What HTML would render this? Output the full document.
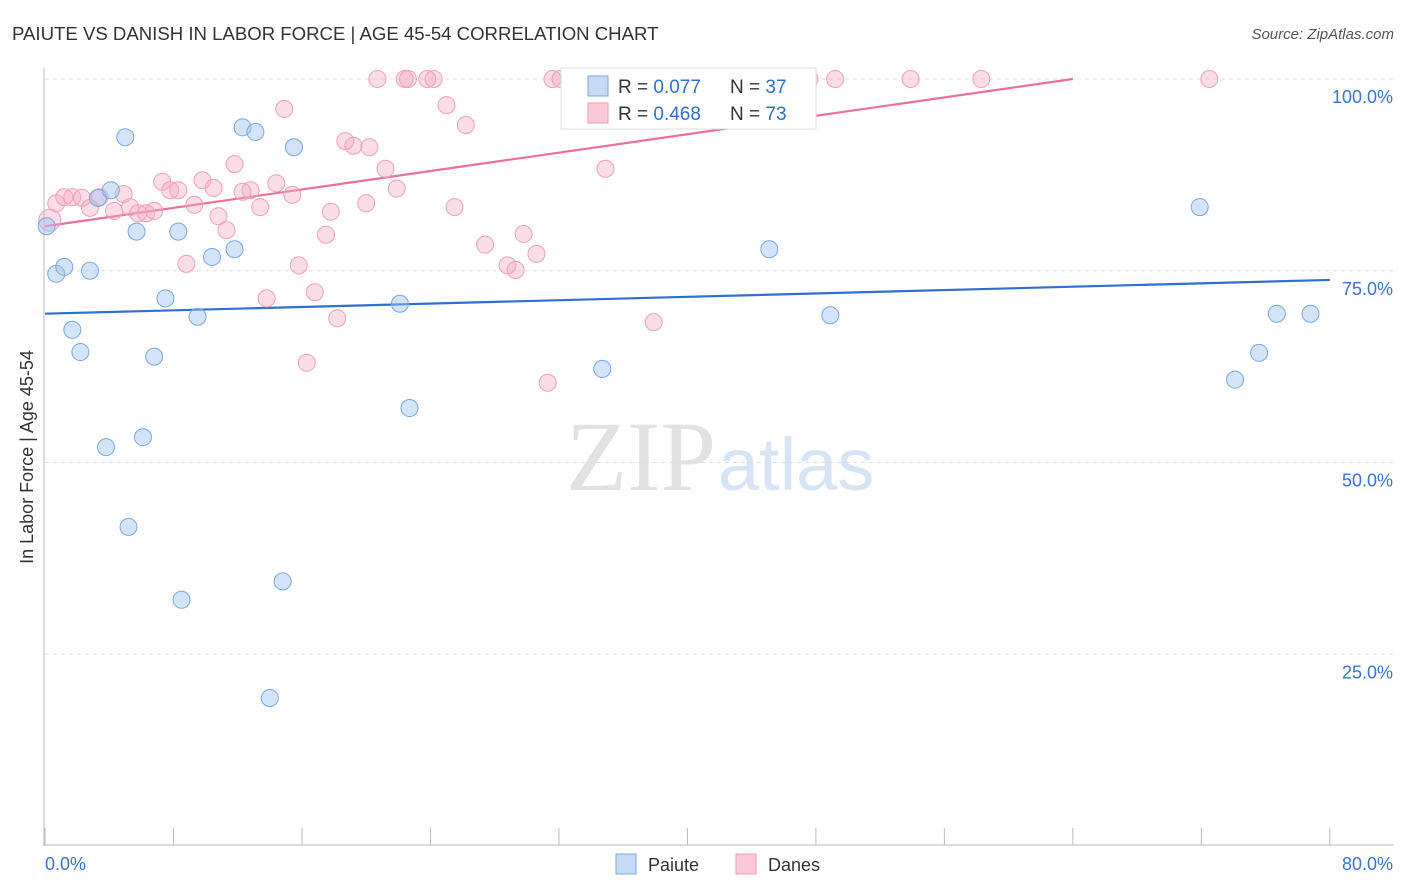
<!DOCTYPE html>
<html><head><meta charset="utf-8"><style>
body{margin:0;background:#fff;font-family:"Liberation Sans",sans-serif;}
svg{display:block}
</style></head><body>
<svg id="chart" width="1406" height="892" xmlns="http://www.w3.org/2000/svg">
<text x="12" y="40" font-size="18.6" fill="#333">PAIUTE VS DANISH IN LABOR FORCE | AGE 45-54 CORRELATION CHART</text>
<text x="1394" y="39" font-size="15" fill="#555" font-style="italic" text-anchor="end">Source: ZipAtlas.com</text>
<text x="716" y="490" font-size="100" fill="#e2e2e2" text-anchor="end" font-family="Liberation Serif,serif">ZIP</text>
<text x="718" y="490" font-size="74" fill="#d6e4f5">atlas</text>
<text transform="translate(33,457) rotate(-90)" font-size="18" fill="#333" text-anchor="middle">In Labor Force | Age 45-54</text>
<g id="grid"></g><g id="axes"></g><g id="trend"></g><g id="pts"></g>
<g>
<rect x="561" y="68" width="255" height="61" fill="#fff" stroke="#ddd"/>
<rect x="588" y="76" width="20" height="20" fill="#c5daf5" stroke="#7aa7e0"/>
<text x="618" y="93" font-size="19" fill="#333">R = <tspan fill="#2f6fd0">0.077</tspan></text>
<text x="730" y="93" font-size="19" fill="#333">N = <tspan fill="#2f6fd0">37</tspan></text>
<rect x="588" y="103" width="20" height="20" fill="#f9c9d8" stroke="#ef9ab4"/>
<text x="618" y="120" font-size="19" fill="#333">R = <tspan fill="#2f6fd0">0.468</tspan></text>
<text x="730" y="120" font-size="19" fill="#333">N = <tspan fill="#2f6fd0">73</tspan></text>
</g>
<g>
<rect x="616" y="854" width="20" height="20" fill="#c5daf5" stroke="#7aa7e0"/>
<text x="648" y="871" font-size="18" fill="#333">Paiute</text>
<rect x="736" y="854" width="20" height="20" fill="#f9c9d8" stroke="#ef9ab4"/>
<text x="768" y="871" font-size="18" fill="#333">Danes</text>
</g>
</svg>
<script>
const blueX=[0.1,0.7,1.2,2.8,1.7,2.2,3.3,4.1,5.0,5.7,3.8,6.1,5.2,6.8,7.5,8.3,8.5,9.5,10.4,11.8,12.3,13.1,14.8,15.5,14.0,22.1,22.7,34.7,45.1,48.9,71.9,74.1,75.6,76.7,78.8];
const blueY=[80.8,74.6,75.5,75.0,67.3,64.4,84.5,85.5,92.4,80.1,52.0,53.3,41.6,63.8,71.4,80.1,32.1,69.0,76.8,77.8,93.7,93.1,34.5,91.1,19.3,70.7,57.1,62.2,77.8,69.2,83.3,60.8,64.3,69.4,69.4];
const pinkX=[0.3,0.7,1.2,1.7,2.3,2.8,3.4,4.3,4.9,5.3,5.8,6.3,6.8,7.3,7.8,8.3,8.8,9.3,9.8,10.5,10.8,11.3,11.8,12.3,12.8,13.4,13.8,14.4,14.9,15.4,15.8,16.8,17.5,17.8,18.2,18.7,19.2,20.2,20.0,20.7,21.2,21.9,22.4,22.6,23.8,24.2,25.0,25.5,26.2,27.4,28.8,29.3,29.8,30.6,31.3,31.6,32.1,34.9,37.9,38.4,40.8,44.5,47.6,49.2,53.9,58.3,72.5,16.3];
const pinkY=[81.6,83.8,84.6,84.6,84.5,83.2,84.6,82.8,85.0,83.3,82.5,82.5,82.8,86.6,85.5,85.5,75.9,83.6,86.8,85.8,82.1,80.3,88.9,85.3,85.5,83.3,71.4,86.4,96.1,84.9,75.7,72.2,79.7,82.7,68.8,91.9,91.3,91.1,83.8,100,88.3,85.7,100,100,100,100,96.6,83.3,94.0,78.4,75.7,75.1,79.8,77.2,60.4,100,100,88.3,68.3,100,100,100,100,100,100,100,100,63.0];
const yTicks=[100,75,50,25];
const yTickLabels=["100.0%","75.0%","50.0%","25.0%"];
const blueTrend=[69.4,73.8];
const pinkTrend=[80.8,0.3];
const NS="http://www.w3.org/2000/svg";
const sx=v=>45+v*16.06, sy=v=>79+(100-v)*7.67;
function mk(t,a,p){const e=document.createElementNS(NS,t);for(const k in a)e.setAttribute(k,a[k]);p.appendChild(e);return e;}
const grid=document.getElementById('grid'),axes=document.getElementById('axes');
yTicks.forEach((t,i)=>{
 const l=mk('line',{x1:45,x2:1394,y1:sy(t),y2:sy(t),stroke:'#ddd','stroke-dasharray':'4,4'},grid);
 
 
 const tx=mk('text',{x:1393,y:sy(t)+24,'font-size':18,fill:'#3a74d0','text-anchor':'end'},axes);
 tx.textContent=yTickLabels[i];
 
 
});
mk('line',{x1:44,x2:44,y1:68,y2:846,stroke:'#bbb'},axes);
mk('line',{x1:44,x2:1394,y1:845,y2:845,stroke:'#bbb'},axes);
for(let i=0;i<=10;i++){const t=mk('line',{x1:sx(i*8),x2:sx(i*8),y1:828,y2:845,stroke:'#bbb'},axes);
 
 }
let a=mk('text',{x:45,y:870,'font-size':18,fill:'#3a74d0'},axes);a.textContent='0.0%';


a=mk('text',{x:1393,y:870,'font-size':18,fill:'#3a74d0','text-anchor':'end'},axes);a.textContent='80.0%';


const tr=document.getElementById('trend');
let bl=mk('line',{x1:sx(0),y1:sy(blueTrend[0]),x2:sx(80),y2:sy(blueTrend[1]),stroke:'#2f6fd0','stroke-width':2.2},tr);


const xe=(100-pinkTrend[0])/pinkTrend[1];
let pl=mk('line',{x1:sx(0),y1:sy(pinkTrend[0]),x2:sx(xe),y2:sy(100),stroke:'#e8709a','stroke-width':2.2},tr);


const pts=document.getElementById('pts');
pinkX.forEach((x,i)=>{const c=mk('circle',{cx:sx(x),cy:sy(pinkY[i]),r:i==0?11:8.5,fill:'rgba(246,170,195,0.4)',stroke:'#eea0b9','stroke-width':1},pts);
 
 });
blueX.forEach((x,i)=>{const c=mk('circle',{cx:sx(x),cy:sy(blueY[i]),r:8.5,fill:'rgba(160,195,240,0.45)',stroke:'#7aa7e0','stroke-width':1},pts);
 
 });
</script>
</body></html>
